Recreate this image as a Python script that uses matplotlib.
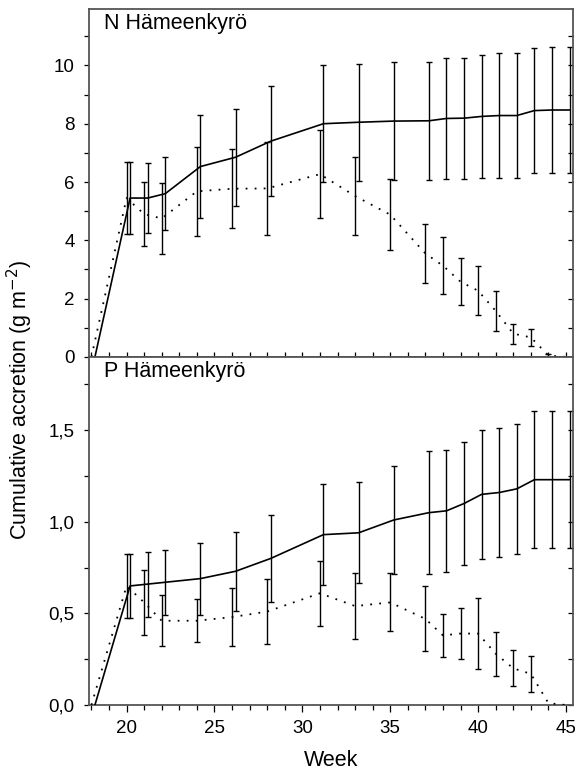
import numpy as np
import matplotlib
matplotlib.use("Agg")
import matplotlib.pyplot as plt
from matplotlib.ticker import MultipleLocator, FuncFormatter

# === Data ===
weeks = np.array([18, 20, 21, 22, 24, 26, 28, 31, 33, 35, 37, 38, 39, 40, 41, 42, 43, 44, 45])

# N Hämeenkyrö
n_solid = np.array([0, 5.45, 5.45, 5.6, 6.53, 6.85, 7.4, 8.0, 8.05, 8.09, 8.1, 8.18, 8.19,
                    8.25, 8.28, 8.28, 8.45, 8.47, 8.47])
n_solid_err = np.array([0, 1.22, 1.2, 1.25, 1.77, 1.67, 1.89, 2.0, 2.0, 2.02, 2.03, 2.08, 2.07,
                        2.12, 2.15, 2.15, 2.15, 2.15, 2.16])
n_dot = np.array([0, 5.45, 4.9, 4.75, 5.68, 5.77, 5.78, 6.27, 5.52, 4.88, 3.55, 3.13, 2.58,
                  2.27, 1.58, 0.8, 0.67, 0.05, 0.0])
n_dot_err = np.array([0, 1.22, 1.1, 1.23, 1.53, 1.36, 1.58, 1.5, 1.33, 1.22, 1.0, 0.98, 0.81,
                      0.84, 0.68, 0.34, 0.29, 0.05, 0])

# P Hämeenkyrö
p_solid = np.array([0, 0.65, 0.66, 0.67, 0.69, 0.73, 0.80, 0.93, 0.94, 1.01, 1.05, 1.06, 1.10,
                    1.15, 1.16, 1.18, 1.23, 1.23, 1.23])
p_solid_err = np.array([0, 0.177, 0.177, 0.176, 0.196, 0.215, 0.236, 0.274, 0.276, 0.295, 0.335,
                        0.334, 0.334, 0.352, 0.354, 0.354, 0.374, 0.374, 0.374])
p_dot = np.array([0, 0.65, 0.56, 0.46, 0.46, 0.48, 0.51, 0.61, 0.54, 0.56, 0.47, 0.38, 0.39,
                  0.39, 0.28, 0.20, 0.17, 0.01, 0.0])
p_dot_err = np.array([0, 0.177, 0.177, 0.139, 0.117, 0.157, 0.177, 0.178, 0.178, 0.158, 0.177,
                      0.119, 0.138, 0.196, 0.119, 0.099, 0.098, 0, 0])

panels = [
    ("N Hämeenkyrö", n_solid, n_solid_err, n_dot, n_dot_err),
    ("P Hämeenkyrö", p_solid, p_solid_err, p_dot, p_dot_err),
]

plt.rcParams['font.family'] = ['Liberation Sans', 'DejaVu Sans']
spine_col = '#555555'
tick_fs = 13.5
text_fs = 15.5

fig = plt.figure(figsize=(5.75, 7.76), dpi=100)
left, right = 0.155, 0.996
ax_top = fig.add_axes([left, 0.540, right - left, 0.989 - 0.540])
ax_bot = fig.add_axes([left, 0.0915, right - left, 0.540 - 0.0915], sharex=ax_top)
axes = [ax_top, ax_bot]

shift = 0.2  # solid series drawn slightly right of the dotted one
for ax, (name, s, se, d, de) in zip(axes, panels):
    ax.plot(weeks + shift, s, color='black', lw=1.2, zorder=3)
    ax.plot(weeks, d, color='black', lw=1.3, linestyle=(0, (1, 4)), zorder=3)
    m = se > 0
    ax.errorbar(weeks[m] + shift, s[m], yerr=se[m], fmt='none', ecolor='black',
                elinewidth=1.0, capsize=2.2, capthick=1.0, zorder=2)
    m = de > 0
    ax.errorbar(weeks[m], d[m], yerr=de[m], fmt='none', ecolor='black',
                elinewidth=1.0, capsize=2.2, capthick=1.0, zorder=2)
    for sp in ax.spines.values():
        sp.set_color(spine_col)
        sp.set_linewidth(1.3)
    ax.text(0.030, 0.94 if ax is ax_top else 0.943, name, transform=ax.transAxes,
            fontsize=text_fs, va='baseline', ha='left')

ax_top.set_xlim(17.87, 45.38)
ax_top.set_ylim(0, 11.95)
ax_bot.set_ylim(0, 1.9)

# y ticks
ax_top.yaxis.set_major_locator(MultipleLocator(2))
ax_top.yaxis.set_minor_locator(MultipleLocator(1))
ax_bot.yaxis.set_major_locator(MultipleLocator(0.5))
ax_bot.yaxis.set_minor_locator(MultipleLocator(0.25))
ax_bot.yaxis.set_major_formatter(FuncFormatter(lambda v, p: f"{v:.1f}".replace('.', ',')))
ax_top.set_yticks([0, 2, 4, 6, 8, 10])

for ax in axes:
    ax.xaxis.set_major_locator(MultipleLocator(5))
    ax.xaxis.set_minor_locator(MultipleLocator(1))
    ax.tick_params(axis='y', which='both', direction='out', left=True, right=False,
                   labelsize=tick_fs, colors='black', width=0.9, length=3.5, pad=7)

# right-hand ticks point inward: draw them with a secondary axis
for ax in axes:
    sec = ax.secondary_yaxis('right')
    sec.yaxis.set_major_locator(ax.yaxis.get_minor_locator())
    sec.tick_params(axis='y', which='both', direction='in', length=3.5, width=0.9,
                    labelright=False)
    sec.spines['right'].set_visible(False)

ax_top.tick_params(axis='x', which='both', direction='in', bottom=True, top=False,
                   labelbottom=False, length=3.5, width=0.9)
ax_bot.tick_params(axis='x', which='both', direction='out', bottom=True, top=False,
                   labelsize=tick_fs, width=0.9, pad=6)
ax_bot.tick_params(axis='x', which='major', length=5)
ax_bot.tick_params(axis='x', which='minor', length=3.5)

ax_bot.set_xlabel("Week", fontsize=text_fs, labelpad=9)
fig.text(0.035, 0.485, "Cumulative accretion (g m$^{-2}$)", rotation=90,
         fontsize=text_fs, ha='center', va='center')

fig.savefig("out.png", dpi=100)
